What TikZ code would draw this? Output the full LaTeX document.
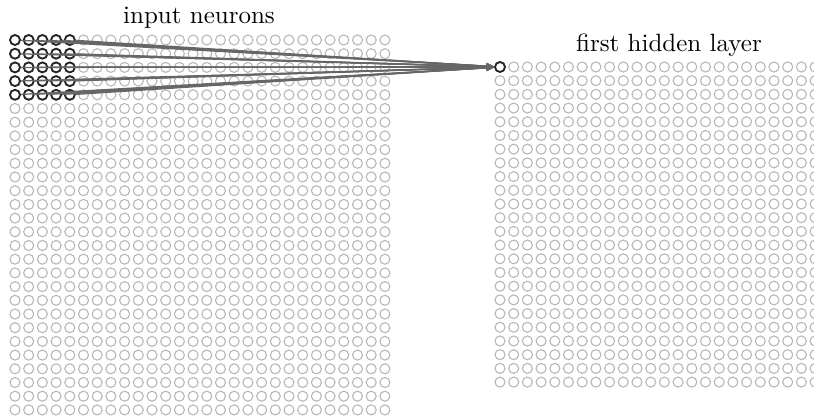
\documentclass[tikz,border=0pt]{standalone}
\usetikzlibrary{arrows.meta}
\begin{document}
\begin{tikzpicture}[x=0.4pt,y=-0.4pt,
  neuron/.style={circle,draw=black!28,line width=0.45pt,minimum size=4pt,inner sep=0pt},
  active/.style={circle,draw=black!85,line width=0.75pt,minimum size=4pt,inner sep=0pt},
  conn/.style={draw=black!60,line width=0.5pt,-{Stealth[length=3pt,width=2.6pt]}},
  lbl/.style={font=\fontsize{10}{12}\selectfont,anchor=base,inner sep=0pt}]
\useasboundingbox (0,0) rectangle (814,418);
% input neurons 28x28
\foreach \r in {1,...,28}{
  \foreach \c in {1,...,28}{
    \node[neuron] (in-\r-\c) at ({15+13.7*(\c-1)},{40+13.7*(\r-1)}) {};
  }
}
% hidden layer 24x24
\foreach \r in {1,...,24}{
  \foreach \c in {1,...,24}{
    \node[neuron] (hid-\r-\c) at ({500+13.7*(\c-1)},{67+13.7*(\r-1)}) {};
  }
}
% local receptive field
\foreach \r in {1,...,5}{
  \foreach \c in {1,...,5}{
    \node[active] (rf-\r-\c) at ({15+13.7*(\c-1)},{40+13.7*(\r-1)}) {};
  }
}
\node[active,fill=white] (h) at (500,67) {};
\foreach \r in {1,...,5}{
  \foreach \c in {1,...,5}{
    \draw[conn] (rf-\r-\c) -- (h);
  }
}
\node[lbl] (t1) at (199,24) {input neurons};
\node[lbl] (t2) at (669,52) {first hidden layer};
\end{tikzpicture}
\end{document}
